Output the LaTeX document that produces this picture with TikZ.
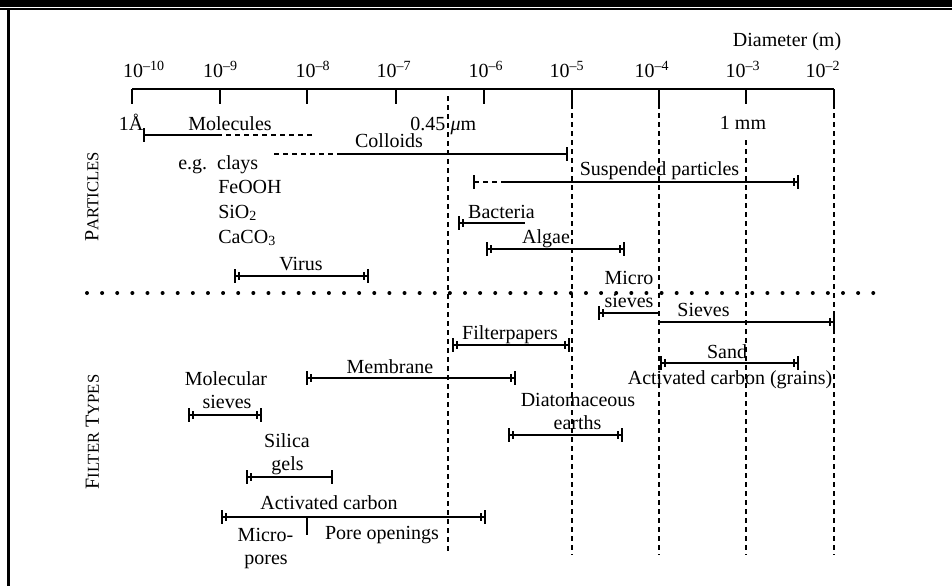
\documentclass[tikz,border=0pt]{standalone}
\usepackage{fontspec}
\setmainfont{Liberation Serif}
\begin{document}
\begin{tikzpicture}[x=0.75pt,y=-0.75pt,
  lbl/.style={font=\fontsize{15}{18}\selectfont, inner sep=0pt, anchor=base},
  side/.style={font=\fontsize{15}{18}\selectfont, inner sep=0pt, rotate=90},
  ax/.style={line width=1.1pt},
  rl/.style={line width=1pt},
  tk/.style={line width=1pt},
  vd/.style={line width=1pt, dash pattern=on 3.75pt off 3pt},
  rd/.style={line width=1pt, dash pattern=on 3.75pt off 3pt},
  lb/.pic={\draw[tk] (0,-7) -- (0,7); \draw[tk] (4,-4) -- (4,4);},
  rb/.pic={\draw[tk] (0,-7) -- (0,7); \draw[tk] (-4,-4) -- (-4,4);},
  sb/.pic={\draw[tk] (0,-7) -- (0,7);},
]
\useasboundingbox (0,0) rectangle (952,586);
% frame
\fill (0,0) rectangle (952,6.5);
\draw[line width=1.2pt] (0,8.8) -- (952,8.8);
\draw[line width=2pt] (8.7,8) -- (8.7,586);

% axis
\draw[ax] (132,89) -- (834,89);
\foreach \x in {132,220,307,396,484,572,659,746,834} \draw[ax] (\x,89) -- (\x,104);
\node[lbl] (e10) at (144,77) {10\textsuperscript{–10}};
\node[lbl] (e9) at (220.5,77) {10\textsuperscript{–9}};
\node[lbl] (e8) at (313,77) {10\textsuperscript{–8}};
\node[lbl] (e7) at (394,77) {10\textsuperscript{–7}};
\node[lbl] (e6) at (486,77) {10\textsuperscript{–6}};
\node[lbl] (e5) at (567,77) {10\textsuperscript{–5}};
\node[lbl] (e4) at (652,77) {10\textsuperscript{–4}};
\node[lbl] (e3) at (743,77) {10\textsuperscript{–3}};
\node[lbl] (e2) at (823,77) {10\textsuperscript{–2}};
\node[lbl] (diam) at (787,46) {Diameter (m)};

% vertical dashed guides
\draw[vd] (448,96) -- (448,555);
\draw[vd] (572,104) -- (572,555);
\draw[vd] (659,104) -- (659,555);
\draw[vd] (746,140) -- (746,555);
\draw[vd] (834,104) -- (834,555);

% side labels
\node[side] (part) at (92,197) {P{\fontsize{12.5}{14}\selectfont ARTICLES}};
\node[side] (filt) at (92.5,432) {F{\fontsize{12.5}{14}\selectfont ILTER} T{\fontsize{12.5}{14}\selectfont YPES}};

% dotted separator
\foreach \i in {0,...,52} \fill (87+15.12*\i,293) circle[radius=2];

% ---------- PARTICLES ----------
\node[lbl] (ang) at (131,130) {1Å};
\node[lbl] (mol) at (230,130) {Molecules};
\node[lbl, anchor=base west] (q45) at (410,130) {0.45\hspace{4pt}\textit{μ}m};
\node[lbl] (mm) at (743,129) {1 mm};
\draw[rl] (144,135) -- (217,135);
\draw[rd] (217,135) -- (315,135);
\pic at (144,135) {sb};

\node[lbl] (col) at (389,147) {Colloids};
\draw[rd] (274,154) -- (337,154);
\draw[rl] (337,154) -- (567,154);
\pic at (567,154) {sb};

\node[lbl, anchor=base west] (eg) at (178,169) {e.g.\ \ clays};
\node[lbl, anchor=base west] (feo) at (218,193) {FeOOH};
\node[lbl, anchor=base west] (sio) at (218,218) {SiO\textsubscript{2}};
\node[lbl, anchor=base west] (caco) at (218,243) {CaCO\textsubscript{3}};

\node[lbl] (susp) at (659.5,175) {Suspended particles};
\draw[rd] (474,182) -- (503,182);
\draw[rl] (503,182) -- (798,182);
\pic at (474,182) {sb};
\pic at (798,182) {rb};

\node[lbl] (bact) at (501.5,218) {Bacteria};
\draw[rl] (459,223) -- (525,223);
\pic at (459,223) {lb};

\node[lbl] (alg) at (546,243) {Algae};
\draw[rl] (487,249) -- (624,249);
\pic at (487,249) {lb};
\pic at (624,249) {rb};

\node[lbl] (vir) at (301,270) {Virus};
\draw[rl] (235,276) -- (368,276);
\pic at (235,276) {lb};
\pic at (368,276) {rb};

% ---------- FILTER TYPES ----------
\node[lbl] (micro) at (629,284) {Micro};
\node[lbl] (msiev) at (629,307) {sieves};
\draw[rl] (599,313) -- (658,313);
\pic at (599,313) {lb};

\node[lbl] (siev) at (703.5,316) {Sieves};
\draw[rl] (659,322) -- (834,322);
\pic at (834,322) {rb};

\node[lbl] (fp) at (510,339) {Filterpapers};
\draw[rl] (453,345) -- (569,345);
\pic at (453,345) {lb};
\pic at (569,345) {rb};

\node[lbl] (sand) at (727,358) {Sand};
\draw[rl] (661,363) -- (798,363);
\pic at (661,363) {lb};
\pic at (798,363) {rb};
\node[lbl] (acg) at (730,384) {Activated carbon (grains)};

\node[lbl] (memb) at (390,373) {Membrane};
\draw[rl] (307,378) -- (515,378);
\pic at (307,378) {lb};
\pic at (515,378) {rb};

\node[lbl] (molec) at (226,385) {Molecular};
\node[lbl] (molsv) at (227,408) {sieves};
\draw[rl] (189,415) -- (261,415);
\pic at (189,415) {lb};
\pic at (261,415) {rb};

\node[lbl] (diat) at (578,406) {Diatomaceous};
\node[lbl] (earth) at (577.5,429) {earths};
\draw[rl] (509,435) -- (622,435);
\pic at (509,435) {lb};
\pic at (622,435) {rb};

\node[lbl] (sil) at (287,447) {Silica};
\node[lbl] (gels) at (287.5,470) {gels};
\draw[rl] (247,477) -- (332,477);
\pic at (247,477) {lb};
\pic at (332,477) {sb};

\node[lbl] (ac) at (329,509) {Activated carbon};
\draw[rl] (222,517) -- (485,517);
\pic at (222,517) {lb};
\pic at (485,517) {rb};
\draw[tk] (307,517) -- (307,535);
\node[lbl] (mp1) at (265.5,541) {Micro-};
\node[lbl] (mp2) at (266,564) {pores};
\node[lbl] (po) at (382,539) {Pore openings};
\end{tikzpicture}
\end{document}
